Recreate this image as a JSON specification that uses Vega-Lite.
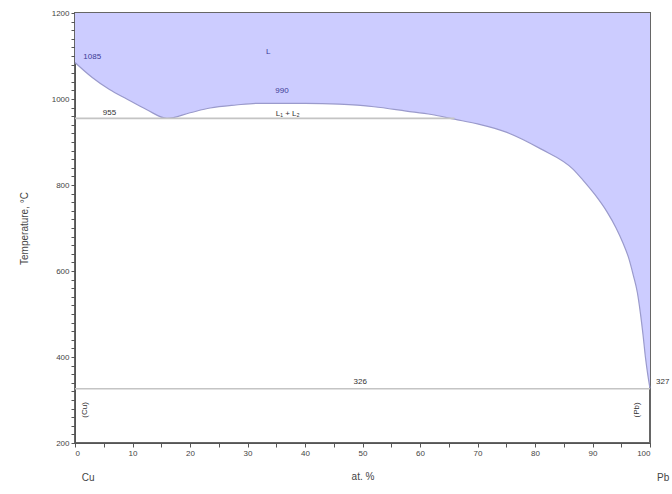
{
  "$schema": "https://vega.github.io/schema/vega-lite/v6.json",
  "width": 575,
  "height": 430,
  "autosize": "none",
  "padding": {"left": 75, "top": 13, "right": 22, "bottom": 51},
  "background": "white",
  "config": {
    "font": "Liberation Sans",
    "view": {"stroke": "#666666", "strokeWidth": 2},
    "axis": {"grid": false, "domainColor": "#555555", "tickColor": "#555555", "labelColor": "#444444", "titleColor": "#444444", "labelFont": "Liberation Sans", "titleFont": "Liberation Sans", "titleFontWeight": "normal", "labelOverlap": false}
  },
  "datasets": {
    "boundary": [
      {"x": 0, "T": 1085}, {"x": 3, "T": 1050}, {"x": 6, "T": 1022}, {"x": 9, "T": 1000},
      {"x": 12.5, "T": 975}, {"x": 16, "T": 955}, {"x": 20, "T": 968}, {"x": 23.5, "T": 979},
      {"x": 28, "T": 986}, {"x": 32, "T": 990}, {"x": 40, "T": 990}, {"x": 46, "T": 988},
      {"x": 52, "T": 982}, {"x": 57.6, "T": 972}, {"x": 62, "T": 964}, {"x": 66, "T": 953},
      {"x": 70, "T": 942}, {"x": 75, "T": 923}, {"x": 81, "T": 884}, {"x": 86.6, "T": 837},
      {"x": 88.3, "T": 812}, {"x": 90.4, "T": 778}, {"x": 92.5, "T": 738}, {"x": 94.1, "T": 700},
      {"x": 95.3, "T": 665}, {"x": 96.3, "T": 630}, {"x": 97.1, "T": 590}, {"x": 97.8, "T": 550},
      {"x": 98.3, "T": 505}, {"x": 98.8, "T": 450}, {"x": 99.2, "T": 400}, {"x": 99.6, "T": 360},
      {"x": 100, "T": 327}
    ],
    "lines": [
      {"x": 0, "x2": 66, "T": 955},
      {"x": 0, "x2": 100, "T": 326}
    ],
    "bluelabels": [
      {"label": "1085", "x": 3, "T": 1098},
      {"label": "L", "x": 33.6, "T": 1110},
      {"label": "990", "x": 36, "T": 1018}
    ],
    "darklabels": [
      {"label": "955", "x": 6, "T": 968, "a": 0},
      {"label": "L₁ + L₂", "x": 37, "T": 965, "a": 0},
      {"label": "326", "x": 49.6, "T": 343, "a": 0},
      {"label": "327", "x": 102.2, "T": 343, "a": 0},
      {"label": "(Cu)", "x": 1.7, "T": 277, "a": 270},
      {"label": "(Pb)", "x": 97.8, "T": 277, "a": 270}
    ],
    "ends": [
      {"label": "Cu", "x": 2.3, "T": 118},
      {"label": "Pb", "x": 102.3, "T": 118}
    ]
  },
  "encoding": {
    "x": {"field": "x", "type": "quantitative", "scale": {"domain": [0, 100], "nice": false, "zero": false},
      "axis": {"orient": "bottom", "values": [0, 5, 10, 15, 20, 25, 30, 35, 40, 45, 50, 55, 60, 65, 70, 75, 80, 85, 90, 95, 100],
        "labelExpr": "datum.value % 10 === 0 ? datum.label : ''",
        "tickSize": 4,
        "title": "at. %", "titleFontSize": 10, "titlePadding": 14, "labelFontSize": 8, "labelPadding": 2}},
    "y": {"field": "T", "type": "quantitative", "scale": {"domain": [200, 1200], "nice": false, "zero": false},
      "axis": {"orient": "left", "values": [200, 220, 240, 260, 280, 300, 320, 340, 360, 380, 400, 420, 440, 460, 480, 500, 520, 540, 560, 580, 600, 620, 640, 660, 680, 700, 720, 740, 760, 780, 800, 820, 840, 860, 880, 900, 920, 940, 960, 980, 1000, 1020, 1040, 1060, 1080, 1100, 1120, 1140, 1160, 1180, 1200],
        "format": "d",
        "labelExpr": "datum.value % 200 === 0 ? datum.label : ''",
        "tickSize": 4,
        "title": "Temperature, °C", "titleFontSize": 10, "titlePadding": 22, "labelFontSize": 8, "labelPadding": 2}}
  },
  "layer": [
    {
      "data": {"name": "boundary"},
      "mark": {"type": "area", "fill": "#ccccff", "stroke": null, "interpolate": "monotone"},
      "encoding": {
        "y2": {"datum": 1200}
      }
    },
    {
      "data": {"name": "boundary"},
      "mark": {"type": "line", "stroke": "#9a9acc", "strokeWidth": 1.2, "interpolate": "monotone"}
    },
    {
      "data": {"name": "lines"},
      "mark": {"type": "rule", "stroke": "#c4c4c4", "strokeWidth": 1.6},
      "encoding": {
        "x2": {"field": "x2"}
      }
    },
    {
      "data": {"name": "bluelabels"},
      "mark": {"type": "text", "fontSize": 8, "align": "center", "baseline": "middle", "clip": false, "color": "#3c3c96"},
      "encoding": {
        "text": {"field": "label"}
      }
    },
    {
      "data": {"name": "darklabels"},
      "mark": {"type": "text", "fontSize": 8, "align": "center", "baseline": "middle", "clip": false, "color": "#333333"},
      "encoding": {
        "text": {"field": "label"},
        "angle": {"field": "a", "type": "quantitative", "scale": null}
      }
    },
    {
      "data": {"name": "ends"},
      "mark": {"type": "text", "fontSize": 10, "align": "center", "baseline": "middle", "clip": false, "color": "#444444"},
      "encoding": {
        "text": {"field": "label"}
      }
    }
  ]
}
